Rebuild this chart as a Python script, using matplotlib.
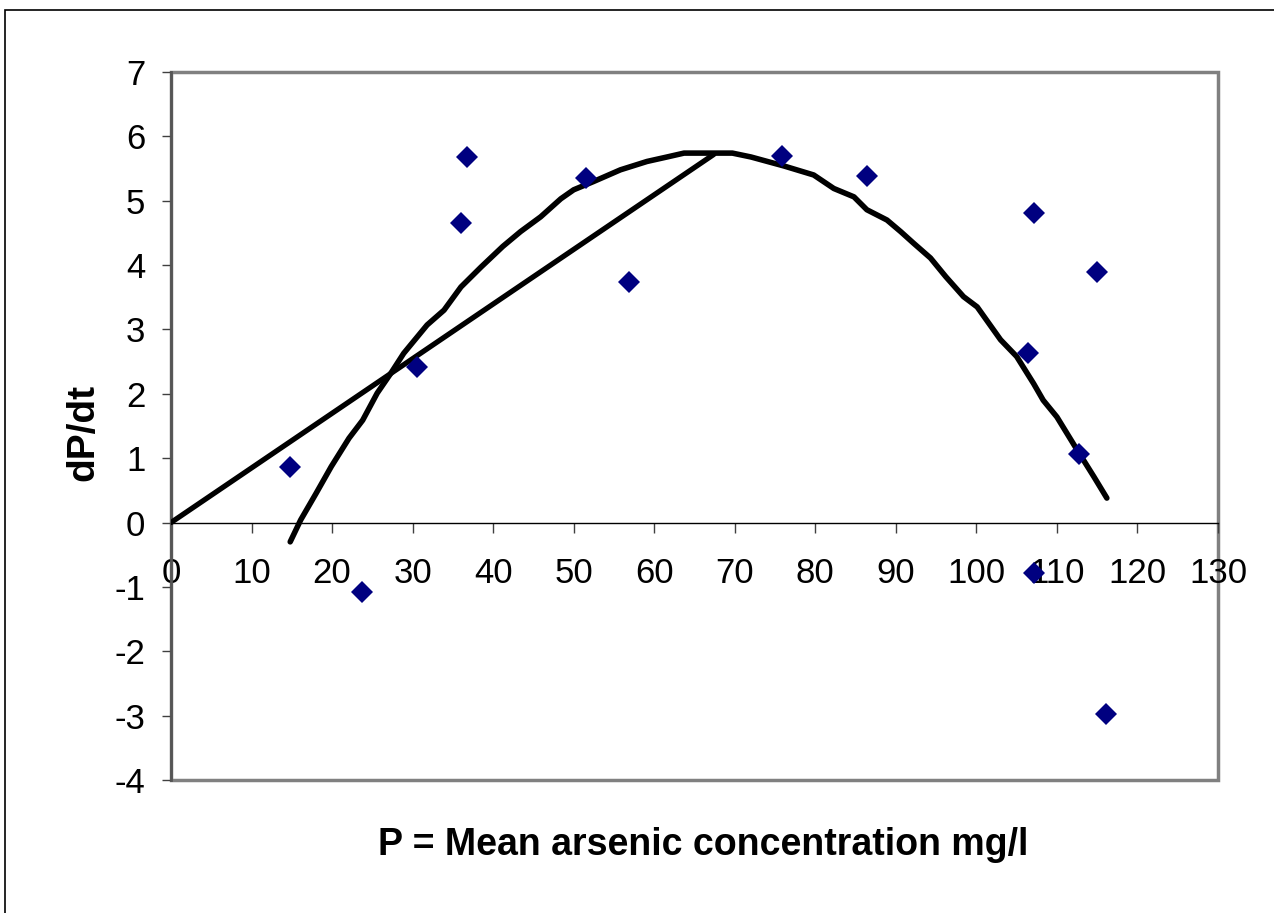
import numpy as np
import matplotlib
matplotlib.use("Agg")
import matplotlib.pyplot as plt
from matplotlib.patches import Rectangle

plt.rcParams['font.family'] = ['Liberation Sans', 'DejaVu Sans']
plt.rcParams['axes.unicode_minus'] = False

# measured points (P, dP/dt)
p_obs = [14.8, 23.7, 30.6, 36.0, 36.8, 51.5, 56.9, 75.9, 86.4,
         106.4, 107.2, 107.2, 112.7, 115.0, 116.1]
dpdt_obs = [0.87, -1.08, 2.42, 4.66, 5.68, 5.35, 3.74, 5.69, 5.39,
            2.63, 4.81, -0.79, 1.06, 3.89, -2.98]

# straight line from origin up to the peak
line_x = [0, 67.4]
line_y = [0, 5.72]

# fitted curve
curve_x = [14.8, 16.1, 18.0, 19.9, 22.1, 23.8, 25.6, 27.3, 28.9, 31.8,
           33.9, 36.0, 38.5, 41.2, 43.4, 45.9, 48.4, 50.0, 52.5, 55.8,
           59.1, 61.6, 63.7, 69.7, 72.0, 76.1, 79.8, 82.3, 84.8, 86.4,
           88.9, 90.6, 92.2, 94.3, 96.2, 98.4, 100.1, 103.0, 105.0, 107.1,
           108.3, 110.0, 112.5, 114.6, 116.2]
curve_y = [-0.30, 0.04, 0.45, 0.87, 1.31, 1.59, 2.01, 2.32, 2.63, 3.07,
           3.30, 3.66, 3.97, 4.29, 4.52, 4.75, 5.03, 5.17, 5.30, 5.48,
           5.61, 5.68, 5.74, 5.74, 5.68, 5.54, 5.40, 5.19, 5.06, 4.86,
           4.70, 4.52, 4.34, 4.11, 3.82, 3.51, 3.35, 2.84, 2.58, 2.16,
           1.90, 1.64, 1.13, 0.71, 0.38]

xticks = np.arange(0, 131, 10)
yticks = np.arange(-4, 8, 1)

fig = plt.figure(figsize=(12.74, 9.13), dpi=100)
ax = fig.add_axes([171/1274, 1-780/913, 1047/1274, 708/913])

ax.plot(line_x, line_y, color='black', lw=3.8, solid_capstyle='round', zorder=3)
ax.plot(curve_x, curve_y, color='black', lw=4.0, solid_capstyle='round',
        solid_joinstyle='round', zorder=3)
ax.plot(p_obs, dpdt_obs, linestyle='none', marker='D', markersize=11,
        color='#000080', markeredgewidth=0, zorder=4)

ax.set_xlim(0, 130)
ax.set_ylim(-4, 7)
ax.set_xticks(xticks)
ax.set_yticks(yticks)

# x axis crosses at y = 0
ax.spines['bottom'].set_position(('data', 0))
ax.spines['bottom'].set_color('black')
ax.spines['bottom'].set_linewidth(1.0)
ax.spines['top'].set_visible(False)
ax.spines['right'].set_visible(False)
ax.spines['left'].set_color('#555555')
ax.spines['left'].set_linewidth(2.0)

# gray plot area frame
ax.add_patch(Rectangle((0, 0), 1, 1, transform=ax.transAxes, fill=False,
                       edgecolor='#808080', lw=2.5, zorder=1, clip_on=False))

ax.tick_params(axis='x', direction='out', length=7, width=1, color='#404040',
               pad=18, labelsize=25)
ax.tick_params(axis='y', direction='out', length=6.5, width=1, color='#404040',
               pad=12, labelsize=25)

fig.text(703/1274, 1-845/913, 'P = Mean arsenic concentration mg/l',
         ha='center', va='center', fontsize=27, fontweight='bold')
fig.text(83/1274, 1-432/913, 'dP/dt', rotation=90,
         ha='center', va='center', fontsize=28, fontweight='bold')

# outer chart border
fig.patches.append(Rectangle((5/1274, -0.1), 1.2, 1-10/913+0.1,
                             transform=fig.transFigure, fill=False,
                             edgecolor='black', lw=1.2))

fig.savefig('out.png', dpi=100)
